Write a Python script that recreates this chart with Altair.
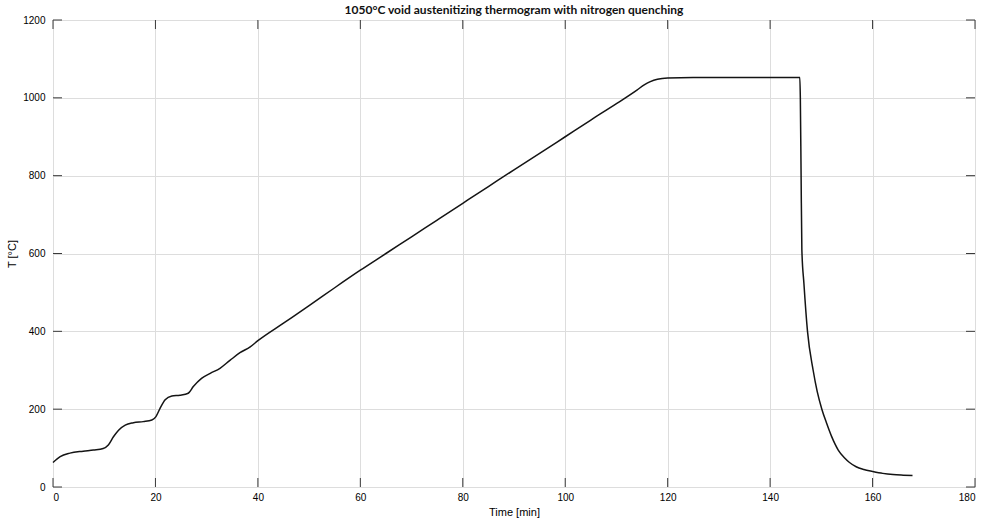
import altair as alt
import pandas as pd

# Furnace thermogram: time in minutes, temperature in degrees C
time_min = [
    0, 1.4, 3.3, 5.9, 7.9, 9.8, 10.8, 11.8, 12.8, 14.1, 15.7, 17.6, 19.3,
    20.1, 20.9, 21.9, 23.2, 24.8, 26.4, 27.4, 29.0, 30.7, 32.6, 34.6, 36.5,
    38.5, 40, 45, 50, 55, 60, 65, 70, 75, 80, 85, 90, 95, 100, 105, 110,
    114, 115.5, 116.5, 118, 120, 125, 130, 135, 140, 145.8,
    145.9, 146.05, 146.2, 146.6, 147.3, 148.4, 149.2, 150.1, 151.0, 152.0,
    153.3, 154.5, 155.5, 156.8, 158.3, 160.0, 162.0, 164.0, 166.0, 167.8,
]
temp_c = [
    63, 78, 87, 92, 95, 99, 108, 129, 146, 159, 165, 168, 172,
    181, 202, 224, 234, 236, 241, 258, 279, 292, 305, 326, 345,
    360, 376, 421, 466, 512, 557, 600, 643, 686, 729, 772, 815, 857, 900, 943, 985,
    1020, 1034, 1041, 1048, 1051, 1052, 1052, 1052, 1052, 1052,
    1000, 800, 609, 523, 400, 300, 245, 200, 165, 130,
    95, 75, 63, 52, 45, 40, 35, 32, 30.5, 29.5,
]

x_ticks = [0, 20, 40, 60, 80, 100, 120, 140, 160, 180]
y_ticks = [0, 200, 400, 600, 800, 1000, 1200]
title_text = ["1050°C void austenitizing thermogram with nitrogen quenching"]

W, H = 922, 467
TICK = 9
AXIS_COLOR = "#3a3a3a"
FONT = "Liberation Sans"

curve = pd.DataFrame({"t": time_min, "T": temp_c})
xt = pd.DataFrame({"v": x_ticks})
yt = pd.DataFrame({"v": y_ticks})
head = pd.DataFrame({"label": title_text})

x_scale = alt.Scale(domain=[0, 180], nice=False, zero=False)
y_scale = alt.Scale(domain=[0, 1200], nice=False, zero=False)

line = alt.Chart(curve).mark_line(
    color="#141414", strokeWidth=1.5, interpolate="monotone"
).encode(
    x=alt.X(
        "t:Q", scale=x_scale,
        axis=alt.Axis(
            values=x_ticks, format="d", title="Time [min]", grid=True,
            domain=False, ticks=False, labelPadding=5, titlePadding=4,
            titleFontWeight="normal",
        ),
    ),
    y=alt.Y(
        "T:Q", scale=y_scale,
        axis=alt.Axis(
            values=y_ticks, format="d", title="T [°C]", grid=True,
            domain=False, ticks=False, labelPadding=8, titlePadding=5,
            titleFontWeight="normal",
        ),
    ),
)

# Inward tick marks on all four sides of the box
tick_style = dict(color=AXIS_COLOR, strokeWidth=1)
bottom_ticks = alt.Chart(xt).mark_rule(**tick_style).encode(
    x=alt.X("v:Q", scale=x_scale), y=alt.value(H), y2=alt.value(H - TICK)
)
top_ticks = alt.Chart(xt).mark_rule(**tick_style).encode(
    x=alt.X("v:Q", scale=x_scale), y=alt.value(0), y2=alt.value(TICK)
)
left_ticks = alt.Chart(yt).mark_rule(**tick_style).encode(
    y=alt.Y("v:Q", scale=y_scale), x=alt.value(0), x2=alt.value(TICK)
)
right_ticks = alt.Chart(yt).mark_rule(**tick_style).encode(
    y=alt.Y("v:Q", scale=y_scale), x=alt.value(W), x2=alt.value(W - TICK)
)

# Chart heading drawn above the plot box
heading = alt.Chart(head).mark_text(
    font="Lato, Roboto, sans-serif",
    fontSize=12,
    fontWeight="bold",
    color="#111111",
    align="center",
    baseline="alphabetic",
).encode(text="label:N", x=alt.value(W / 2), y=alt.value(-6))

chart = alt.layer(
    line, bottom_ticks, top_ticks, left_ticks, right_ticks, heading
).properties(
    width=W,
    height=H,
    autosize=alt.AutoSizeParams(type="none"),
    padding={"left": 53, "top": 20, "right": 12, "bottom": 37},
).configure_view(
    stroke=AXIS_COLOR, strokeWidth=1
).configure_axis(
    gridColor="#e8e8e8",
    gridWidth=1,
    labelFont=FONT,
    labelFontSize=10.5,
    labelColor="#3a3a3a",
    titleFont=FONT,
    titleFontSize=11,
    titleFontWeight="normal",
    titleColor="#262626",
).configure(background="white")

chart.save("out.html", embed_options={"renderer": "svg", "actions": False})
